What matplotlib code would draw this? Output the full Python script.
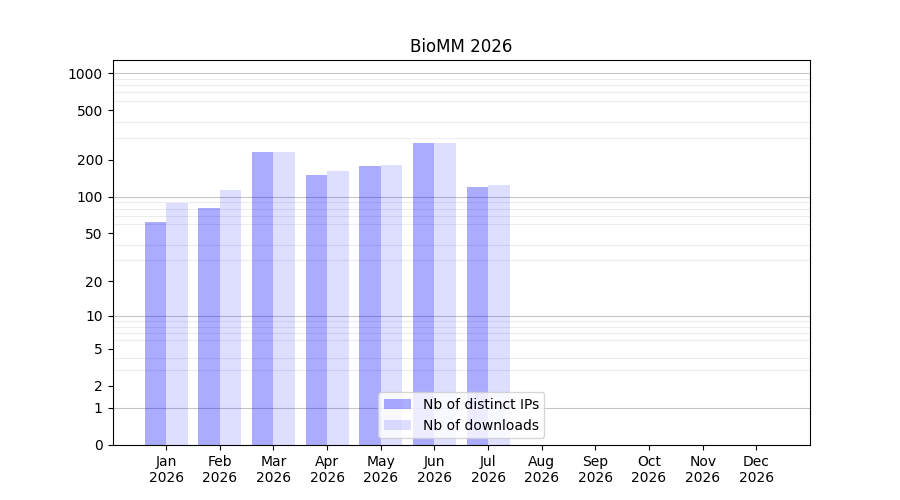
import numpy as np
import matplotlib
matplotlib.use("Agg")
import matplotlib.pyplot as plt
from matplotlib.ticker import FixedLocator, FixedFormatter, NullFormatter

months = ["Jan", "Feb", "Mar", "Apr", "May", "Jun", "Jul", "Aug", "Sep", "Oct", "Nov", "Dec"]
year = "2026"
distinct_ips = [62, 81, 231, 150, 178, 273, 120]
downloads = [89, 113, 231, 162, 181, 273, 124]
ytick_values = [0, 1, 2, 5, 10, 20, 50, 100, 200, 500, 1000]
major_grid = [1, 10, 100, 1000]
minor_grid = [m * d for d in (1, 10, 100) for m in range(2, 10)]

def fwd(x):
    return np.log10(1 + np.clip(x, 0, None))

def inv(y):
    return 10 ** y - 1

fig, ax = plt.subplots(figsize=(9, 5), dpi=100)
ax.set_yscale("function", functions=(fwd, inv))

x_all = np.arange(len(months))
x_data = np.arange(len(distinct_ips))
w = 0.4
ax.bar(x_data - w / 2, distinct_ips, width=w, color="blue", alpha=0.33,
       label="Nb of distinct IPs", zorder=2)
ax.bar(x_data + w / 2, downloads, width=w, color="blue", alpha=0.13,
       label="Nb of downloads", zorder=2)

ax.set_xticks(x_all)
ax.set_xticklabels([f"{m}\n{year}" for m in months])
ax.set_xlim(-1, 12)
ax.set_ylim(0, 1279)

ax.yaxis.set_major_locator(FixedLocator(ytick_values))
ax.yaxis.set_major_formatter(FixedFormatter([str(v) for v in ytick_values]))
ax.yaxis.set_minor_locator(FixedLocator(minor_grid))
ax.yaxis.set_minor_formatter(NullFormatter())
ax.tick_params(axis="y", which="minor", length=0)
ax.yaxis.grid(True, which="minor", color="gray", alpha=0.15, linewidth=0.8, zorder=1)
ax.yaxis.grid(False, which="major")
for v in major_grid:
    ax.axhline(v, color="gray", alpha=0.45, linewidth=0.8, zorder=1)
ax.set_axisbelow(True)

ax.set_title("BioMM 2026")
ax.legend(loc="lower center")
fig.savefig("out.png", dpi=100)
